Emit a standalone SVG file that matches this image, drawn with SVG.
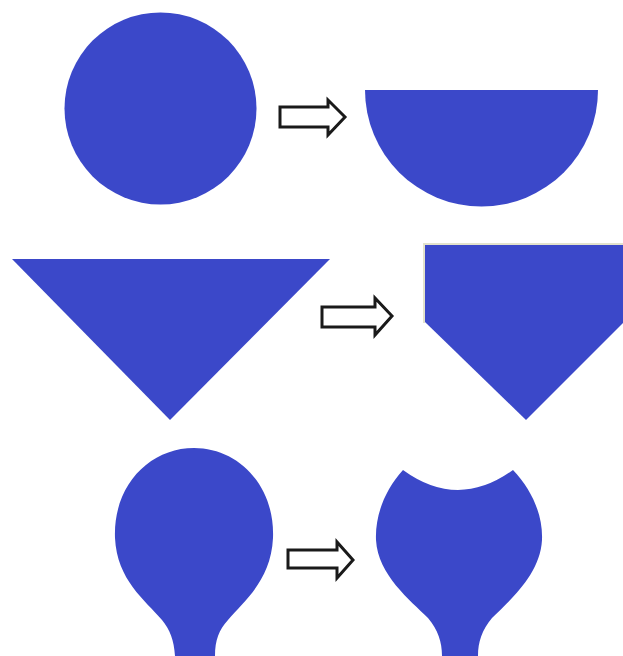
<svg xmlns="http://www.w3.org/2000/svg" width="623" height="656" viewBox="0 0 623 656">
<style>
.shape{fill:#3b48c9;}
.arrow{fill:#ffffff;stroke:#1a1a1a;stroke-width:3;stroke-linejoin:miter;}
</style>
<rect width="623" height="656" fill="#ffffff"/>
<g id="circle"><circle class="shape" cx="160.5" cy="108.5" r="96"/></g>
<g id="half-circle"><path class="shape" d="M 365 90 L 598 90 A 116.5 116.5 0 0 1 365 90 Z"/></g>
<g id="triangle"><polygon class="shape" points="12,259 330,259 170,420"/></g>
<g id="pentagon">
<polyline points="424,323 424,244 623,244" fill="none" stroke="#e2e2cc" stroke-width="2"/>
<polygon class="shape" points="425,245 623,245 623,323 526,420 425,322"/></g>
<g id="balloon"><path class="shape" d="M 175 656 C 174 640 170 630 162 620 C 145 600 117 580 115 538 C 113 485 150 448 194 448 C 238 448 275 485 273 538 C 271 580 245 600 228 620 C 219 630 215 640 215 656 Z"/></g>
<g id="cut-balloon"><path class="shape" d="M 403 470 Q 458 510 513 470 C 532 490 543 515 542 540 C 540 575 510 600 492 618 C 482 630 478 642 478 656 L 442 656 C 442 642 438 630 428 618 C 410 600 378 575 376 540 C 375 515 385 490 403 470 Z"/></g>
<g id="connectors">
<polygon class="arrow" points="280,107 328,107 328,100 345,117 328,135 328,127 280,127"/>
<polygon class="arrow" points="322,307 375,307 375,298 392,316 375,335 375,327 322,327"/>
<polygon class="arrow" points="288,550 337,550 337,542 353,560 337,578 337,568 288,568"/>
</g>
</svg>
